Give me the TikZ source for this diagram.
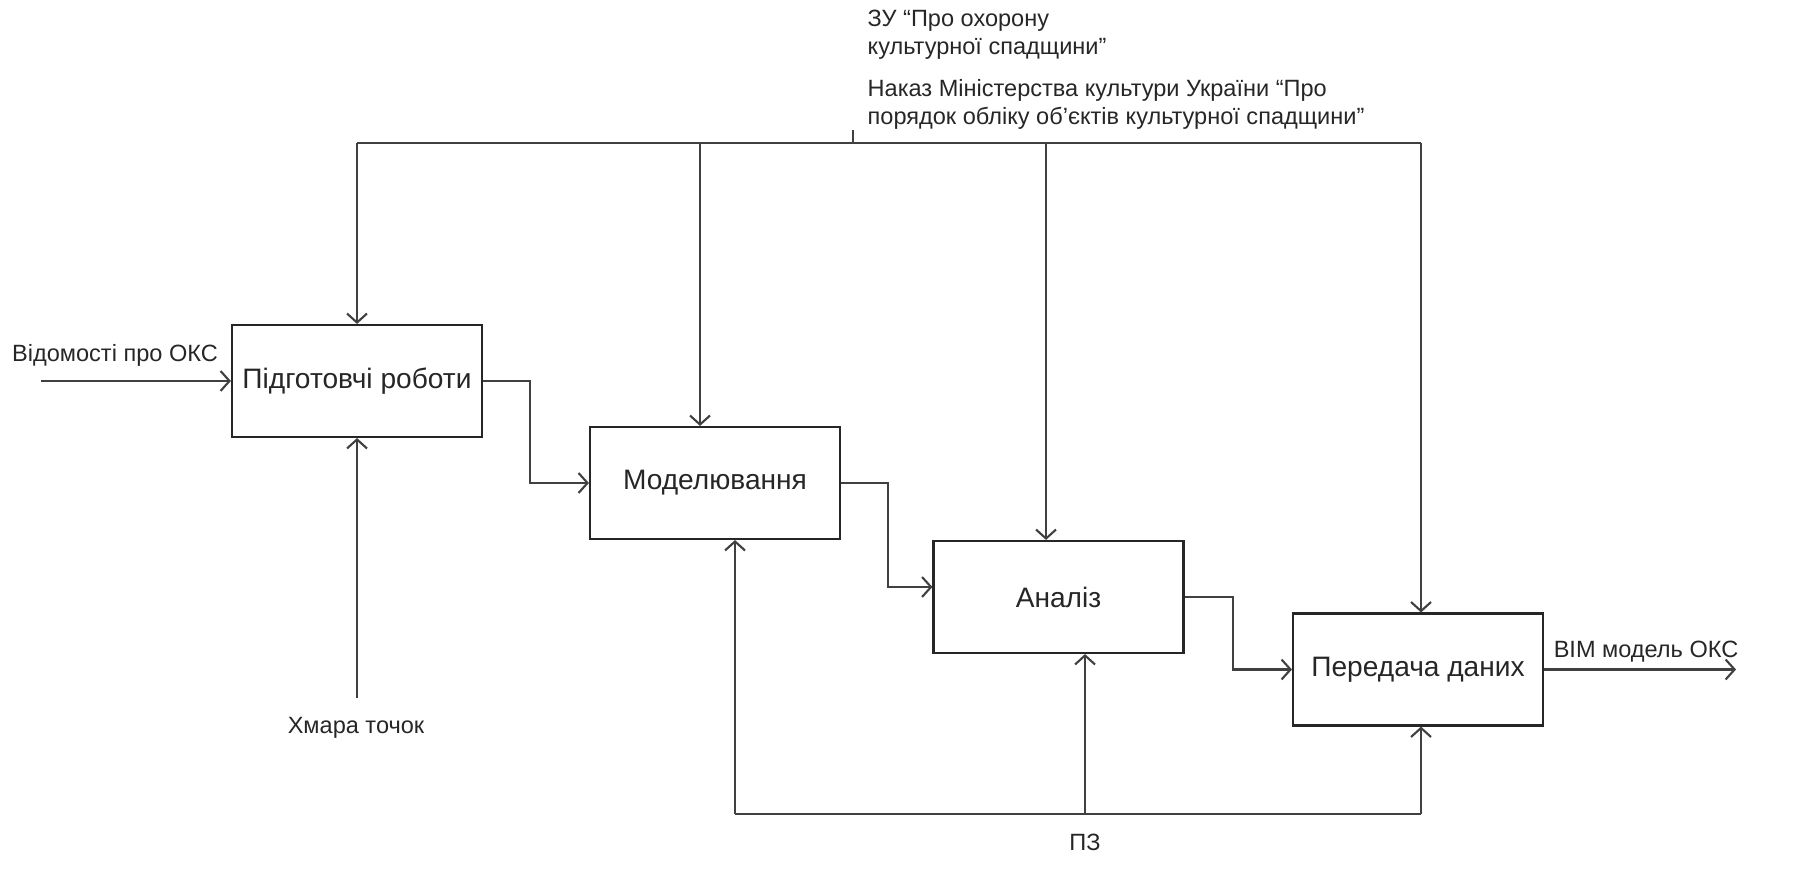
\documentclass[tikz,border=0pt]{standalone}
\usepackage{fontspec}
\setmainfont{Liberation Sans}
\usetikzlibrary{arrows.meta}

\begin{document}
\begin{tikzpicture}[
        text=black!85,
        font=\fontsize{6.7}{8}\selectfont,
        box/.style={draw=black!85, line width=0.6pt, minimum width=2.5cm,
            minimum height=1.12cm, inner sep=0pt, font=\fontsize{8}{9.6}\selectfont},
        lbl/.style={inner sep=0pt, align=left},
        ln/.style={draw=black!75, line width=0.6pt},
        arr/.style={ln, -{Straight Barb[length=0.9mm,width=2mm]}}
    ]
    \useasboundingbox (0,0) rectangle (18.11,8.86);

    % ===== блоки =====
    \node[box] (prep)  at (3.57,5.05)   {Підготовчі роботи};
    \node[box] (model) at (7.15,4.03)   {Моделювання};
    \node[box] (anal)  at (10.585,2.89) {Аналіз};
    \node[box] (trans) at (14.18,2.165) {Передача даних};

    % ===== вхід і вихід =====
    \node[lbl] (vidom) at (1.15,5.31) {Відомості про ОКС};
    \coordinate (in) at (0.41,5.05);
    \draw[arr] (in) -- (prep.west);

    \coordinate (out) at (17.36,2.165);
    \draw[arr] (trans.east) -- (out);
    \node[lbl] (bim) at (16.46,2.34) {BIM модель ОКС};

    % ===== зв'язки між блоками =====
    \draw[arr] (prep.east) -- ++(0.47,0) |- (model.west);
    \draw[arr] (model.east) -- ++(0.47,0) |- ([yshift=0.1cm]anal.west);
    \draw[arr] (anal.east) -- ++(0.48,0) |- (trans.west);

    % ===== керування (зверху) =====
    \node[lbl, anchor=base west] (zu) at (8.67,8.31)
        {ЗУ “Про охорону\\культурної спадщини”};
    \node[lbl, anchor=base west] (nakaz) at (8.67,7.61)
        {Наказ Міністерства культури України “Про\\порядок обліку об’єктів культурної спадщини”};

    \coordinate (t0) at (8.53,7.56);
    \coordinate (t1) at (3.57,7.43);
    \coordinate (t2) at (7.00,7.43);
    \coordinate (t3) at (10.46,7.43);
    \coordinate (t4) at (14.21,7.43);
    \draw[ln] (t0) -- (t0 |- t1);
    \draw[ln] (t1) -- (t4);
    \draw[arr] (t1) -- (prep.north);
    \draw[arr] (t2) -- (t2 |- model.north);
    \draw[arr] (t3) -- (t3 |- anal.north);
    \draw[arr] (t4) -- (t4 |- trans.north);

    % ===== механізми (знизу) =====
    \node[lbl] (hmara) at (3.56,1.58) {Хмара точок};
    \coordinate (m0) at (3.57,1.88);
    \draw[arr] (m0) -- (prep.south);

    \node[lbl] (pz) at (10.85,0.44) {ПЗ};
    \coordinate (b1) at (7.35,0.72);
    \coordinate (b2) at (10.85,0.72);
    \coordinate (b3) at (14.21,0.72);
    \draw[ln] (b1) -- (b3);
    \draw[arr] (b1) -- (b1 |- model.south);
    \draw[arr] (b2) -- (b2 |- anal.south);
    \draw[arr] (b3) -- (b3 |- trans.south);

\end{tikzpicture}
\end{document}
